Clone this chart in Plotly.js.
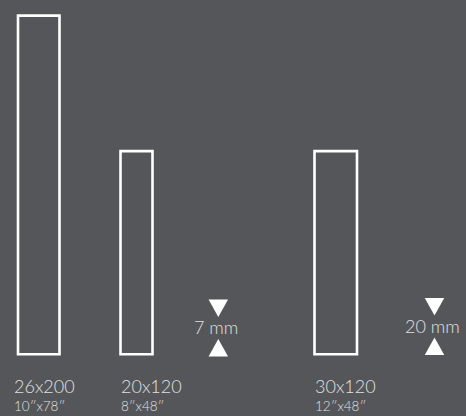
<!DOCTYPE html>
<html>
<head>
<meta charset="utf-8">
<script src="https://cdn.plot.ly/plotly-3.0.1.min.js"></script>
<style>html,body{margin:0;padding:0;background:#545659;}#chart{width:466px;height:416px;}</style>
</head>
<body>
<div id="chart"></div>
<script>
// ---- data ----
var sizeLabels = ['26x200', '20x120', '30x120'];
var inchLabels = ['10\u2033x78\u2033', '8\u2033x48\u2033', '12\u2033x48\u2033'];
var lengthsCm = [200, 120, 120];
var widthsCm = [26, 20, 30];
var thicknessLabels = ['7 mm', '20 mm'];

// ---- layout constants (drawing positions / sizes) ----
var W = 466, H = 416;
var barCenters = [38.75, 136.5, 335.75];
var barWidths = [41.5, 32, 42.5];
var labelX = [11.5, 119, 312.5];
var basePx = 354.3, topPx = 15.6;              // pixel rows of value 0 and 200
var k = (basePx - topPx) / 200;                // px per cm
var ymin = -(H - basePx) / k, ymax = ymin + H / k;
function Y(px) { return ymax - px / k; }       // pixel row -> y value
var indX = [218.3, 434.5];
var indY = [328, 326.5];
var triW = 19.5, triH = 17.5, triGap = 11;
var fg = '#ffffff', txt = '#e0e0e0', bg = '#545659';
var font = 'Lato, "Open Sans", sans-serif';

var traces = [{
  type: 'bar',
  x: barCenters,
  y: lengthsCm,
  width: barWidths,
  base: 0,
  marker: {color: 'rgba(0,0,0,0)', line: {color: fg, width: 2.6}},
  hoverinfo: 'skip',
  showlegend: false
}];

// thickness indicators
thicknessLabels.forEach(function (t, i) {
  var cx = indX[i], cy = indY[i];
  var dTop = cy - triGap - triH, dTip = cy - triGap;
  traces.push({
    type: 'scatter', mode: 'lines', fill: 'toself', fillcolor: fg,
    line: {width: 0, color: fg}, hoverinfo: 'skip', showlegend: false,
    x: [cx - triW / 2, cx + triW / 2, cx, cx - triW / 2],
    y: [Y(dTop), Y(dTop), Y(dTip), Y(dTop)]
  });
  var uTip = cy + triGap, uBase = cy + triGap + triH;
  traces.push({
    type: 'scatter', mode: 'lines', fill: 'toself', fillcolor: fg,
    line: {width: 0, color: fg}, hoverinfo: 'skip', showlegend: false,
    x: [cx - triW / 2, cx + triW / 2, cx, cx - triW / 2],
    y: [Y(uBase), Y(uBase), Y(uTip), Y(uBase)]
  });
});

var annotations = [];
sizeLabels.forEach(function (s, i) {
  annotations.push({
    x: labelX[i], y: Y(386), xref: 'x', yref: 'y', text: s, showarrow: false,
    xanchor: 'left', yanchor: 'middle', font: {family: font, size: 18, weight: 300, color: txt}
  });
  annotations.push({
    x: labelX[i], y: Y(405.5), xref: 'x', yref: 'y', text: inchLabels[i], showarrow: false,
    xanchor: 'left', yanchor: 'middle', font: {family: font, size: 13.5, weight: 300, color: txt}
  });
});
thicknessLabels.forEach(function (t, i) {
  annotations.push({
    x: indX[i] - 2, y: Y(indY[i] - 1), xref: 'x', yref: 'y', text: t, showarrow: false,
    xanchor: 'center', yanchor: 'middle', font: {family: font, size: 18, weight: 300, color: txt}
  });
});

var layout = {
  width: W, height: H,
  margin: {l: 0, r: 0, t: 0, b: 0, pad: 0},
  paper_bgcolor: bg, plot_bgcolor: bg,
  xaxis: {range: [0, W], visible: false, fixedrange: true},
  yaxis: {range: [ymin, ymax], visible: false, fixedrange: true},
  annotations: annotations,
  showlegend: false
};

Plotly.newPlot('chart', traces, layout, {displayModeBar: false, staticPlot: true});
</script>
</body>
</html>
